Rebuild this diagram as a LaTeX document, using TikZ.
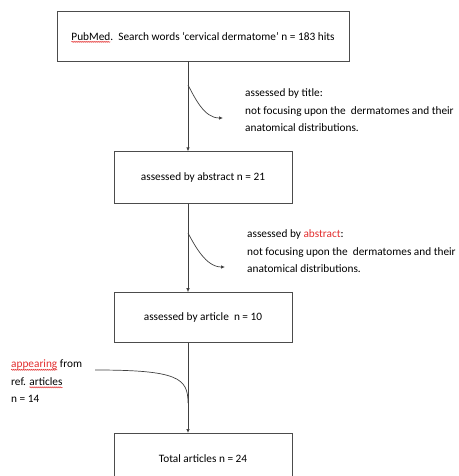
\documentclass[tikz,border=0pt]{standalone}
\usepackage{fontspec}
\setmainfont{Carlito}
\usetikzlibrary{positioning}
\usetikzlibrary{arrows.meta}
\usetikzlibrary{decorations.pathmorphing}
\definecolor{spellred}{RGB}{226,46,46}
\newcommand{\spellwave}[1]{\tikz[baseline=(w.base)]{\node[inner sep=0pt, outer sep=0pt, draw=none, minimum width=0pt, minimum height=0pt] (w) {#1}; \draw[overlay, spellred, line width=0.5pt, decorate, decoration={snake, segment length=2pt, amplitude=0.6pt}] ([yshift=-1.8pt]w.base west) -- ([yshift=-1.8pt]w.base east);}}

\begin{document}
\begin{tikzpicture}[x=1pt,y=-1pt,
flowbox/.style={rectangle, draw=black!70, line width=0.8pt, minimum width=178pt, minimum height=50pt, font=\fontsize{11.3}{13}\selectfont},
notetext/.style={align=left, inner sep=0pt, font=\fontsize{11.3}{17.5}\selectfont},
flowline/.style={draw=black!75, line width=0.7pt},
tip/.style={-{Latex[length=4pt,width=3.5pt]}},
]
\useasboundingbox (0,0) rectangle (458,476);
\clip (0,0) rectangle (458,476);
%Nodes
\node[flowbox, minimum width=292pt] (pubmed) at (203,36) {\spellwave{PubMed}.\ \ Search words ‘cervical dermatome’ n = 183 hits};
\node[flowbox, minimum height=52pt] (abstract) [below=90pt of pubmed] {assessed by abstract n = 21};
\node[flowbox] (article) [below=88pt of abstract] {assessed by article\ \ n = 10};
\node[flowbox] (total) [below=90pt of article] {Total articles n = 24};

\node[notetext, anchor=north west] (titlenote) at (245,88.5) {assessed by title:\\not focusing upon the\ \ dermatomes and their\\anatomical distributions.};
\node[notetext, anchor=north west] (abstractnote) at (247,229.5) {assessed by \textcolor{spellred}{abstract}:\\not focusing upon the\ \ dermatomes and their\\anatomical distributions.};
\node[notetext, anchor=north west] (refnote) at (11,360) {\spellwave{\textcolor{spellred}{appearing}} from\\ref. \spellwave{articles}\\n = 14};

\coordinate (spine) at (188,0);
\coordinate (titlefork) at (188,85);
\coordinate (titleout) at (223,118);
\coordinate (abstractfork) at (188,233);
\coordinate (abstractout) at (225,267);
\coordinate (refstart) at (95,370);
\coordinate (refjoin) at (188,403);

%Lines
\draw[flowline, tip] (pubmed.south -| spine) -- (abstract.north -| spine);
\draw[flowline, tip] (abstract.south -| spine) -- (article.north -| spine);
\draw[flowline, tip] (article.south -| spine) -- (total.north -| spine);
\draw[flowline, tip] (titlefork) .. controls (195,98) and (204,118) .. (titleout);
\draw[flowline, tip] (abstractfork) .. controls (195,246) and (206,267) .. (abstractout);
\draw[flowline] (refstart) .. controls (178,370) and (188,378) .. (refjoin);

\end{tikzpicture}
\end{document}
